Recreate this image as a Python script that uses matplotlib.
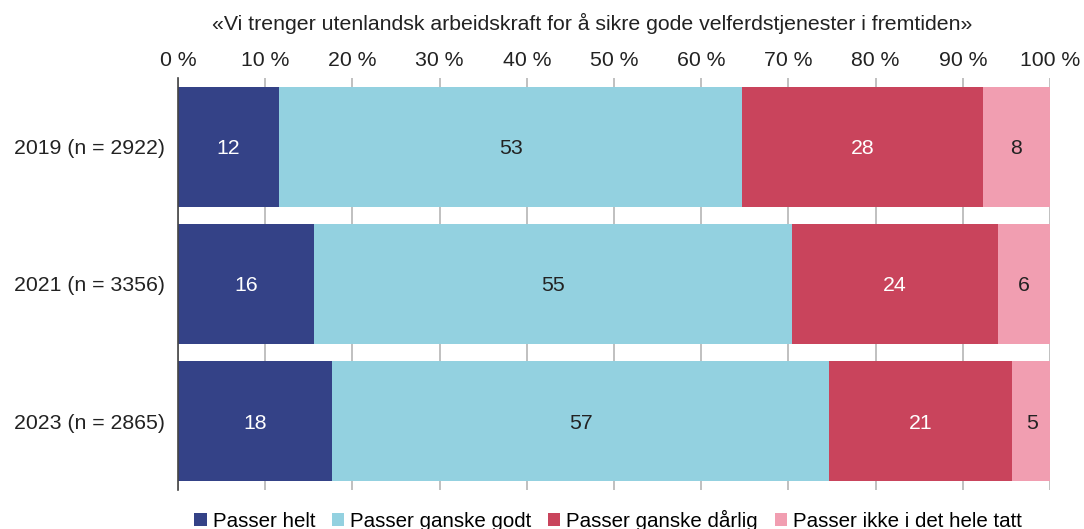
import matplotlib.pyplot as plt
from matplotlib.patches import Patch

plt.rcParams['font.family'] = ['Liberation Sans', 'DejaVu Sans']

# data (percent)
years = ['2019 (n = 2922)', '2021 (n = 3356)', '2023 (n = 2865)']
categories = ['Passer helt', 'Passer ganske godt', 'Passer ganske dårlig', 'Passer ikke i det hele tatt']
helt = [11.6, 15.6, 17.7]
godt = [53.1, 54.8, 57.0]
darlig = [27.6, 23.6, 20.9]
ikke = [7.7, 6.0, 4.6]
ticks = [0, 10, 20, 30, 40, 50, 60, 70, 80, 90, 100]

colors = ['#344287', '#93d1e0', '#c9445c', '#f19eb1']
text_colors = ['white', '#222222', 'white', '#222222']
fs = 15.3

fig = plt.figure(figsize=(10.84, 5.29), dpi=100)
ax = fig.add_axes([0.1642, 0.0737, 0.8044, 0.7789])

series = [helt, godt, darlig, ikke]
left = [0.0] * len(years)
for vals, col, tcol in zip(series, colors, text_colors):
    bars = ax.barh(range(len(years)), vals, left=left, height=0.873, color=col,
                   edgecolor='none', zorder=2)
    for b, v in zip(bars, vals):
        ax.text(b.get_x() + b.get_width() / 2, b.get_y() + b.get_height() / 2,
                f'{round(v)}', ha='center', va='center_baseline', color=tcol, fontsize=fs, zorder=3)
    left = [l + v for l, v in zip(left, vals)]

ax.set_xlim(0, 100)
ax.set_ylim(2.5, -0.5)
ax.set_yticks(range(len(years)))
ax.set_yticklabels(years, fontsize=fs, color='#222222')
ax.set_xticks(ticks)
ax.set_xticklabels([f'{t} %' for t in ticks], fontsize=fs, color='#222222')
ax.xaxis.tick_top()
ax.tick_params(axis='x', length=0, pad=6)
ax.tick_params(axis='y', length=0, pad=9)
ax.grid(axis='x', color='#b5b5b5', linewidth=1.2, zorder=0)
ax.set_axisbelow(True)
for s in ['top', 'right', 'bottom']:
    ax.spines[s].set_visible(False)
ax.spines['left'].set_color('#444444')
ax.spines['left'].set_linewidth(1.2)

fig.text(0.546, 0.956, '«Vi trenger utenlandsk arbeidskraft for å sikre gode velferdstjenester i fremtiden»',
         ha='center', va='center', fontsize=fs, color='#222222')

handles = [Patch(facecolor=c, edgecolor='none') for c in colors]
fig.legend(handles, categories, loc='center', bbox_to_anchor=(0.561, 0.017), ncol=4,
           frameon=False, fontsize=14.8, handlelength=0.6, handleheight=0.6,
           handletextpad=0.3, columnspacing=0.8)

fig.savefig('out.png', dpi=100)
